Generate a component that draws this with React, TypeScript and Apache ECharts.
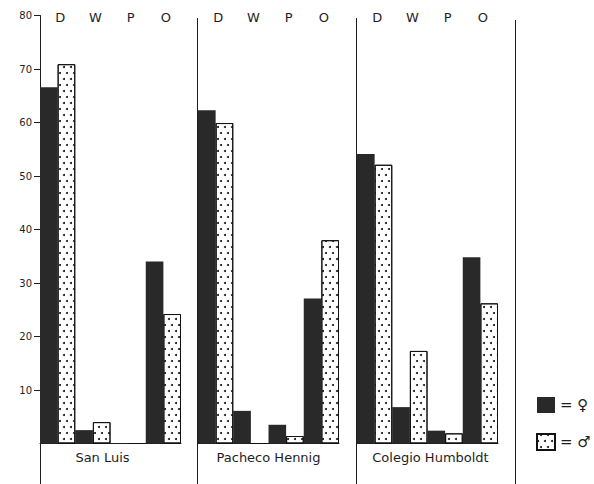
import React, { useEffect, useRef } from "react";
import * as echarts from "echarts";

const categories = ["D", "W", "P", "O"];
const panels = ["San Luis", "Pacheco Hennig", "Colegio Humboldt"];
const femaleValues = [
  [66.6, 2.5, 0, 34.0],
  [62.3, 6.1, 3.5, 27.1],
  [54.1, 6.8, 2.4, 34.8],
];
const maleValues = [
  [70.9, 4.0, 0, 24.2],
  [59.9, 0, 1.4, 38.0],
  [52.1, 17.3, 1.9, 26.2],
];
const yTicks = [10, 20, 30, 40, 50, 60, 70, 80];
const femaleName = "♀";
const maleName = "♂";

const LINE = "#1e1e1e";
const FONT = "DejaVu Sans";

export default function App() {
  const ref = useRef<HTMLDivElement>(null);
  useEffect(() => {
    if (!ref.current) return;
    const chart = echarts.init(ref.current, null, { renderer: "svg" });
    const lefts = [40, 198, 357];
    const grids = lefts.map((l) => ({ left: l, top: 15.5, width: 141, height: 428 }));
    const xAxes: any[] = [];
    const yAxes: any[] = [];
    const series: any[] = [];
    panels.forEach((p, i) => {
      xAxes.push({
        type: "category",
        gridIndex: i,
        data: categories,
        position: "top",
        axisLine: { show: false },
        axisTick: { show: false },
        axisLabel: {
          verticalAlign: "middle",
          margin: -2,
          padding: [0, 0, 0, 5],
          fontFamily: FONT,
          fontSize: 13,
          color: LINE,
        },
      });
      xAxes.push({
        type: "category",
        gridIndex: i,
        data: categories,
        position: "bottom",
        axisLine: { show: true, lineStyle: { color: LINE, width: 1 } },
        axisTick: { show: false },
        axisLabel: { show: false },
        name: p,
        nameLocation: "middle",
        nameGap: 7,
        nameTextStyle: {
          fontFamily: FONT,
          fontSize: 13,
          color: LINE,
          verticalAlign: "top",
          padding: i === 0 ? [0, 16, 0, 0] : i === 2 ? [0, 0, 0, 6] : 0,
        },
      });
      yAxes.push({
        type: "value",
        gridIndex: i,
        min: 0,
        max: 80,
        interval: 10,
        show: i === 0,
        splitLine: { show: false },
        axisLine: { show: i === 0, lineStyle: { color: LINE, width: 1 } },
        axisTick: {
          show: i === 0,
          length: 6,
          customValues: yTicks,
          lineStyle: { color: LINE },
        },
        axisLabel: {
          show: i === 0,
          customValues: yTicks,
          margin: 8,
          fontFamily: FONT,
          fontSize: 10,
          color: LINE,
        },
      });
      series.push({
        type: "bar",
        name: femaleName,
        xAxisIndex: i * 2,
        yAxisIndex: i,
        data: femaleValues[i],
        barGap: "0%",
        barCategoryGap: "0%",
        itemStyle: { color: "#292929" },
      });
      series.push({
        type: "bar",
        name: maleName,
        xAxisIndex: i * 2,
        yAxisIndex: i,
        data: maleValues[i],
        barGap: "0%",
        barCategoryGap: "0%",
        itemStyle: {
          color: "#ffffff",
          borderColor: "#111",
          borderWidth: 1,
          decal: {
            symbol: "circle",
            symbolSize: 1,
            color: "#111",
            dashArrayX: [[1.8, 4.2], [0, 3, 1.8, 1.2]],
            dashArrayY: [1.8, 3.2],
            rotation: 0,
          },
        },
      });
    });

    const vline = (x: number, y1: number, y2: number) => ({
      type: "line",
      shape: { x1: x, y1, x2: x, y2 },
      style: { stroke: LINE, lineWidth: 1 },
      silent: true,
    });

    chart.setOption({
      animation: false,
      backgroundColor: "#ffffff",
      grid: grids,
      xAxis: xAxes,
      yAxis: yAxes,
      series,
      legend: {
        data: [femaleName, maleName],
        orient: "vertical",
        left: 531,
        top: 392,
        itemWidth: 18,
        itemHeight: 16,
        itemGap: 20,
        icon: "rect",
        formatter: "= {name}",
        textStyle: { fontFamily: FONT, fontSize: 15, color: LINE },
        selectedMode: false,
      },
      graphic: [
        vline(40.5, 443, 484),
        vline(197.5, 18, 484),
        vline(356.5, 18, 484),
        vline(515.5, 20, 484),
      ],
    });
    return () => chart.dispose();
  }, []);
  return (
    <div
      ref={ref}
      style={{ position: "fixed", left: 0, top: 0, width: 594, height: 484 }}
    />
  );
}
